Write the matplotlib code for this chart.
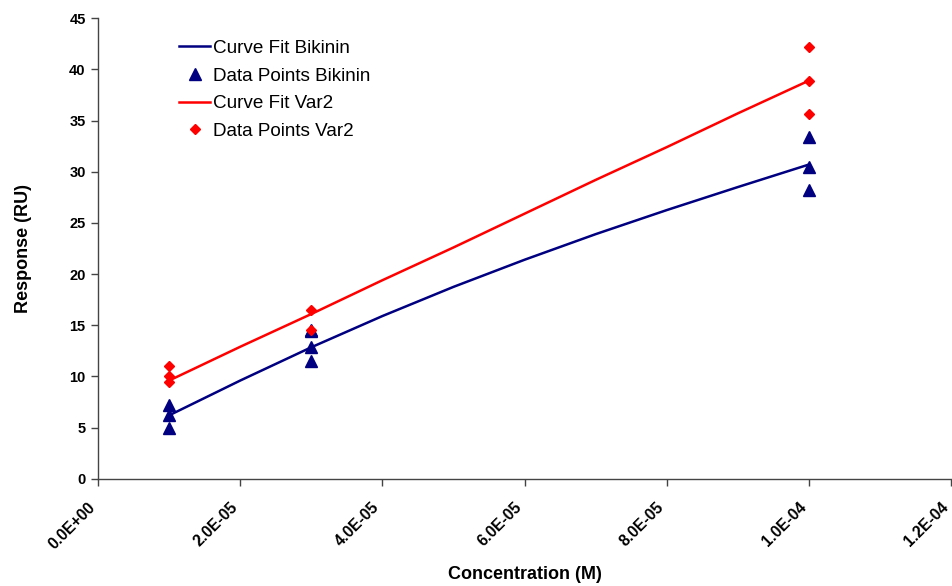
import matplotlib
matplotlib.use("Agg")
import matplotlib.pyplot as plt
from matplotlib.ticker import FixedLocator

plt.rcParams['font.family'] = ['Liberation Sans', 'DejaVu Sans']

# Data points
conc_pts = [1e-5, 1e-5, 1e-5, 3e-5, 3e-5, 3e-5, 3e-5, 1e-4, 1e-4, 1e-4]
bikinin_pts = [7.2, 6.2, 5.0, 14.5, 12.9, 11.5, 14.4, 33.4, 30.5, 28.2]
conc_var2 = [1e-5, 1e-5, 1e-5, 3e-5, 3e-5, 1e-4, 1e-4, 1e-4]
var2_pts = [11.0, 10.0, 9.5, 16.5, 14.5, 42.2, 38.9, 35.6]

# Curve fits
fit_x = [1e-5, 2e-5, 3e-5, 4e-5, 5e-5, 6e-5, 7e-5, 8e-5, 9e-5, 1e-4]
fit_bikinin = [6.2, 9.6, 12.85, 15.9, 18.75, 21.4, 23.9, 26.25, 28.5, 30.7]
fit_var2 = [9.6, 12.9, 16.1, 19.4, 22.6, 25.9, 29.2, 32.4, 35.7, 38.9]

xticks = [0, 2e-5, 4e-5, 6e-5, 8e-5, 1e-4, 1.2e-4]
xtick_labels = ["0.0E+00", "2.0E-05", "4.0E-05", "6.0E-05", "8.0E-05", "1.0E-04", "1.2E-04"]
yticks = [0, 5, 10, 15, 20, 25, 30, 35, 40, 45]

fig = plt.figure(figsize=(9.53, 5.86), dpi=100)
ax = fig.add_axes([0.103, 0.183, 0.895, 0.786])

navy = '#000080'
red = '#FF0000'
ax.plot(fit_x, fit_bikinin, color=navy, lw=1.8, label='Curve Fit Bikinin', zorder=2)
ax.plot(conc_pts, bikinin_pts, linestyle='none', marker='^', color=navy, markersize=8,
        label='Data Points Bikinin', zorder=3)
ax.plot(fit_x, fit_var2, color=red, lw=1.8, label='Curve Fit Var2', zorder=2)
ax.plot(conc_var2, var2_pts, linestyle='none', marker='D', color=red, markersize=5.5,
        label='Data Points Var2', zorder=3)

ax.set_xlim(0, 1.2e-4)
ax.set_ylim(0, 45)
ax.xaxis.set_major_locator(FixedLocator(xticks))
ax.set_xticklabels(xtick_labels, rotation=45, ha='right', va='top',
                   fontweight='bold', fontsize=11.3)
ax.yaxis.set_major_locator(FixedLocator(yticks))
ax.set_yticklabels([str(v) for v in yticks], fontweight='bold', fontsize=10.5)

for s in ['top', 'right']:
    ax.spines[s].set_visible(False)
for s in ['left', 'bottom']:
    ax.spines[s].set_color('#444444')
    ax.spines[s].set_linewidth(1.0)
ax.tick_params(axis='both', direction='out', length=5, color='#444444', width=1.0)
ax.tick_params(axis='x', pad=10)
ax.tick_params(axis='y', pad=4)

ax.set_xlabel('Concentration (M)', fontsize=13, fontweight='bold', labelpad=10)
ax.set_ylabel('Response (RU)', fontsize=13, fontweight='bold', labelpad=27)

leg = ax.legend(loc='upper left', bbox_to_anchor=(0.075, 0.99), frameon=False,
                fontsize=13.6, handlelength=1.65, handletextpad=0.12, labelspacing=0.55)

fig.savefig('out.png', dpi=100)
